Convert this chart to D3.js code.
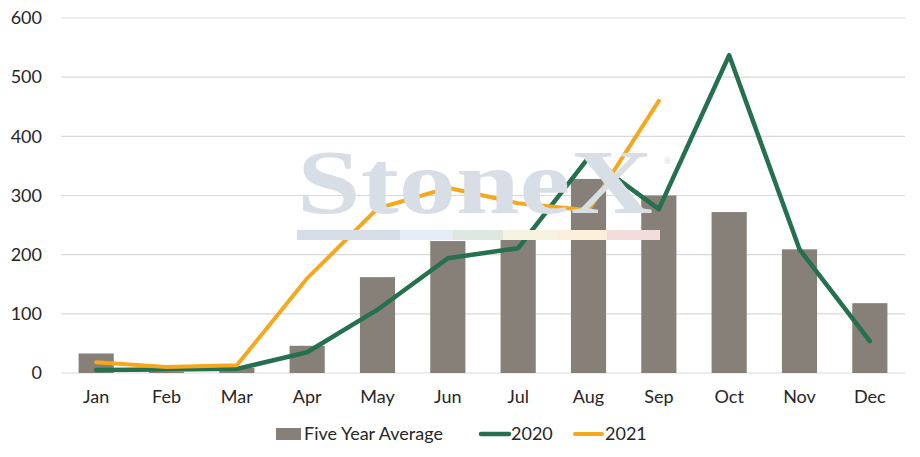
<!DOCTYPE html>
<html lang="en">

<head>
  <meta charset="UTF-8">
  <title>Five Year Average vs 2020 / 2021</title>
  <script src="https://d3js.org/d3.v7.min.js"></script>
  <style>
    body {
      margin: 0;
      background: #fff;
      font-family: Lato, "Open Sans", Arial, sans-serif;
    }

    svg {
      display: block;
    }
  </style>
</head>

<body>
  <svg width="920" height="457"></svg>

  <script>
    // Chart data
    const months = ["Jan", "Feb", "Mar", "Apr", "May", "Jun", "Jul", "Aug", "Sep", "Oct", "Nov", "Dec"];
    const fiveYearAvg = [33, 2, 9, 46, 162, 223, 234, 328, 300, 272, 209, 118];
    const values2020 = [5, 6, 7, 35, 107, 194, 211, 364, 277, 537, 209, 54];
    const values2021 = [18, 10, 13, 160, 278, 313, 287, 275, 460];
    const yTicks = [0, 100, 200, 300, 400, 500, 600];

    const svg = d3.select("svg");
    const margin = { top: 18, right: 15, bottom: 84, left: 61 };
    const width = 920 - margin.left - margin.right;
    const height = 457 - margin.top - margin.bottom;

    const x = d3.scaleBand().domain(months).range([0, width])
      .paddingInner(0.5).paddingOuter(0.25);
    const y = d3.scaleLinear().domain([0, 600]).range([height, 0]);

    const g = svg.append("g").attr("transform", `translate(${margin.left},${margin.top})`);

    // Gridlines
    g.append("g")
      .selectAll("line")
      .data(yTicks)
      .enter().append("line")
      .attr("x1", 0)
      .attr("x2", width)
      .attr("y1", d => y(d))
      .attr("y2", d => y(d))
      .attr("stroke", "#d9d9d9")
      .attr("stroke-width", 1.2);

    // Y axis labels
    const yAxis = g.append("g")
      .call(d3.axisLeft(y).tickValues(yTicks).tickSize(0).tickPadding(19));
    yAxis.select(".domain").remove();
    yAxis.selectAll("text")
      .attr("font-family", "Lato, 'Open Sans', sans-serif")
      .attr("font-size", 18)
      .attr("fill", "#262626");

    // X axis labels
    const xAxis = g.append("g")
      .attr("transform", `translate(0,${height})`)
      .call(d3.axisBottom(x).tickSize(0).tickPadding(17));
    xAxis.select(".domain").remove();
    xAxis.selectAll("text")
      .attr("font-family", "Lato, 'Open Sans', sans-serif")
      .attr("font-size", 18)
      .attr("fill", "#262626");

    // Watermark (sits behind the bars)
    svg.append("text")
      .attr("x", 297)
      .attr("y", 213)
      .attr("textLength", 356)
      .attr("lengthAdjust", "spacingAndGlyphs")
      .attr("font-family", "'Liberation Serif', 'DejaVu Serif', serif")
      .attr("font-weight", "bold")
      .attr("font-size", 92)
      .attr("fill", "#d8dee5")
      .text("StoneX");
    svg.append("text")
      .attr("x", 664)
      .attr("y", 164)
      .attr("font-family", "Lato, sans-serif")
      .attr("font-size", 9)
      .attr("fill", "#d6dce3")
      .text("®");
    const stripeEdges = [297, 400, 453, 503, 557, 607, 660];
    const stripeColors = ["#d6dde6", "#e4ecf5", "#dfe8e0", "#f6f3e0", "#fbeedb", "#f3dcdc"];
    const stripe = sel => stripeColors.forEach((c, i) => {
      sel.append("rect")
        .attr("x", stripeEdges[i])
        .attr("y", 230)
        .attr("width", stripeEdges[i + 1] - stripeEdges[i])
        .attr("height", 10)
        .attr("fill", c);
    });
    stripe(svg.append("g"));

    // Bars
    g.selectAll(".bar")
      .data(fiveYearAvg)
      .enter().append("rect")
      .attr("class", "bar")
      .attr("x", (d, i) => x(months[i]))
      .attr("y", d => y(d))
      .attr("width", x.bandwidth())
      .attr("height", d => height - y(d))
      .attr("fill", "#878078");

    // faint stripe tint over the bars
    stripe(svg.append("g").attr("opacity", 0.12));

    // Lines
    const line = d3.line()
      .x((d, i) => x(months[i]) + x.bandwidth() / 2)
      .y(d => y(d));

    g.append("path")
      .datum(values2020)
      .attr("d", line)
      .attr("fill", "none")
      .attr("stroke", "#24704f")
      .attr("stroke-width", 4.5)
      .attr("stroke-linejoin", "round")
      .attr("stroke-linecap", "round");

    g.append("path")
      .datum(values2021)
      .attr("d", line)
      .attr("fill", "none")
      .attr("stroke", "#f5a81c")
      .attr("stroke-width", 4)
      .attr("stroke-linejoin", "round")
      .attr("stroke-linecap", "round");

    // Legend
    const legend = svg.append("g").attr("font-family", "Lato, 'Open Sans', sans-serif")
      .attr("font-size", 18).attr("fill", "#262626");
    legend.append("rect").attr("x", 276).attr("y", 428).attr("width", 25).attr("height", 12).attr("fill", "#878078");
    legend.append("text").attr("x", 304).attr("y", 440).text("Five Year Average");
    legend.append("line").attr("x1", 481).attr("x2", 509).attr("y1", 434).attr("y2", 434)
      .attr("stroke", "#24704f").attr("stroke-width", 4.5).attr("stroke-linecap", "round");
    legend.append("text").attr("x", 511).attr("y", 440).text("2020");
    legend.append("line").attr("x1", 575).attr("x2", 602).attr("y1", 434).attr("y2", 434)
      .attr("stroke", "#f5a81c").attr("stroke-width", 4).attr("stroke-linecap", "round");
    legend.append("text").attr("x", 605).attr("y", 440).text("2021");
  </script>
</body>

</html>
